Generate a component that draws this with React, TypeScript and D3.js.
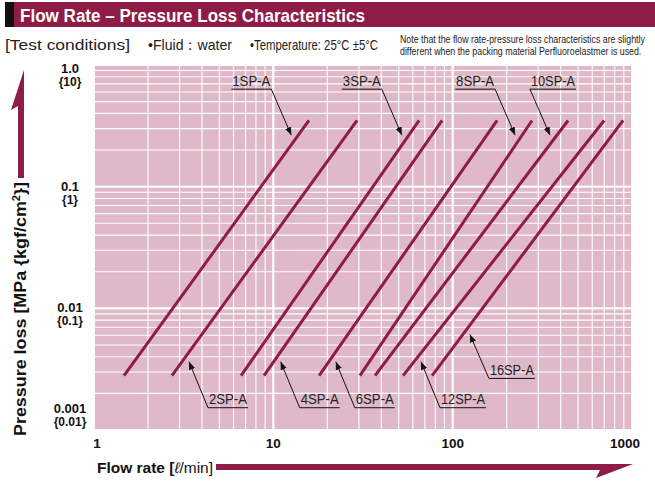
import React from "react";
import * as d3 from "d3";

// ---------- data ----------
const models = ["1SP-A", "2SP-A", "3SP-A", "4SP-A", "6SP-A", "8SP-A", "10SP-A", "12SP-A", "16SP-A"];
const flowAtMinPressure = [1.47, 2.72, 6.61, 8.87, 18.0, 30.4, 36.9, 52.9, 76.8];
const flowAtMaxPressure = [15.8, 29.3, 65.0, 87.3, 177, 277, 440, 699, 892];
const pressureRange = [0.0028, 0.35];

const xTicks = [1, 10, 100, 1000];
const xTickLabels = ["1", "10", "100", "1000"];
const yTicks = [1, 0.1, 0.01, 0.001];
const yTickLabelsMPa = ["1.0", "0.1", "0.01", "0.001"];
const yTickLabelsKgf = ["{10}", "{1}", "{0.1}", "{0.01}"];

// annotations: which model, pressure where arrow points, placement
const annoModel = ["1SP-A", "3SP-A", "8SP-A", "10SP-A", "2SP-A", "4SP-A", "6SP-A", "12SP-A", "16SP-A"];
const annoPressure = [0.265, 0.265, 0.265, 0.265, 0.00364, 0.00364, 0.00364, 0.00364, 0.0061];
const annoSide = ["topL", "topL", "topL", "topR", "bot", "bot", "bot", "bot", "bot"];

const CRIMSON = "#8F1B47";
const PINK = "#DFB9C7";
const FONT = "'Liberation Sans', Arial, sans-serif";

export default function App() {
  const W = 655, H = 487;
  const x = d3.scaleLog().domain([1, 1000]).range([94, 632]);
  const y = d3.scaleLog().domain([0.001, 1]).range([430, 65]);

  const xGrid: number[] = [];
  for (const dec of [1, 10, 100]) for (let k = 1; k <= 10; k++) xGrid.push(dec * k);
  const yGrid: number[] = [];
  for (const dec of [0.001, 0.01, 0.1]) for (let k = 1; k <= 10; k++) yGrid.push(+(dec * k).toPrecision(3));

  const line = d3
    .line<[number, number]>()
    .x((d) => x(d[0]))
    .y((d) => y(d[1]));

  const flowAt = (i: number, p: number) => {
    const t = (Math.log10(p) - Math.log10(pressureRange[0])) / (Math.log10(pressureRange[1]) - Math.log10(pressureRange[0]));
    const lf = Math.log10(flowAtMinPressure[i]) + t * (Math.log10(flowAtMaxPressure[i]) - Math.log10(flowAtMinPressure[i]));
    return Math.pow(10, lf);
  };

  const isDecade = (v: number) => Math.abs(Math.log10(v) - Math.round(Math.log10(v))) < 1e-6;

  return (
    <svg width={W} height={H} style={{ position: "absolute", left: 0, top: 0, background: "#fff" }} fontFamily={FONT}>
      <defs>
        <marker id="ah" viewBox="0 0 10 10" refX="10" refY="5" markerWidth="8" markerHeight="9" markerUnits="userSpaceOnUse" orient="auto">
          <path d="M0,1 L10,5 L0,9 Z" fill="#111" />
        </marker>
      </defs>

      {/* title bar */}
      <rect x={5} y={2} width={650} height={25} fill={CRIMSON} />
      <rect x={5} y={2} width={9} height={25} fill="#111" />
      <text x={20} y={22} fill="#fff" fontSize={19} fontWeight="bold" textLength={345} lengthAdjust="spacingAndGlyphs">
        Flow Rate – Pressure Loss Characteristics
      </text>

      {/* conditions */}
      <text x={5} y={50} fontSize={15} fill="#222" textLength={125} lengthAdjust="spacingAndGlyphs">[Test conditions]</text>
      <text x={148} y={50} fontSize={15} fill="#222" textLength={84} lengthAdjust="spacingAndGlyphs">•Fluid：water</text>
      <text x={250} y={50} fontSize={15} fill="#222" textLength={128} lengthAdjust="spacingAndGlyphs">•Temperature: 25°C ±5°C</text>
      <text transform="translate(400,43) scale(0.84,1)" x={0} y={0} fontSize={10.5} fill="#222">
        Note that the flow rate-pressure loss characteristics are slightly
      </text>
      <text transform="translate(400,55) scale(0.84,1)" x={0} y={0} fontSize={10.5} fill="#222">
        different when the packing material Perfluoroelastmer is used.
      </text>

      {/* plot background */}
      <rect x={x(1)} y={y(1)} width={x(1000) - x(1)} height={y(0.001) - y(1)} fill={PINK} />

      {/* grid */}
      {xGrid.map((v, i) => (
        <line key={"gx" + i} x1={x(v)} x2={x(v)} y1={y(1)} y2={y(0.001)} stroke="#fff" strokeWidth={isDecade(v) ? 1.8 : 1.1} />
      ))}
      {yGrid.map((v, i) => (
        <line key={"gy" + i} x1={x(1)} x2={x(1000)} y1={y(v)} y2={y(v)} stroke="#fff" strokeWidth={isDecade(v) ? 1.8 : 1.1} />
      ))}

      {/* model lines */}
      {models.map((m, i) => (
        <path
          key={m}
          d={line([
            [flowAtMinPressure[i], pressureRange[0]],
            [flowAtMaxPressure[i], pressureRange[1]],
          ]) as string}
          stroke={CRIMSON}
          strokeWidth={3}
          fill="none"
        />
      ))}

      {/* annotations */}
      {annoModel.map((m, k) => {
        const i = models.indexOf(m);
        const p = annoPressure[k];
        const side = annoSide[k];
        const top = side !== "bot";
        const tipX = x(flowAt(i, p)) + (top ? -7 : 7);
        const tipY = y(p);
        const ax = tipX + (top ? -20 : 19);
        const ay = tipY + (top ? -46 : m === "16SP-A" ? 44 : 46);
        const tw = m.length === 5 ? 38 : 44;
        const ulLen = tw + 2;
        const ulStart = side === "topL" ? ax - ulLen : ax;
        return (
          <g key={"a" + m}>
            <line x1={ax} y1={ay} x2={tipX} y2={tipY} stroke="#111" strokeWidth={1} markerEnd="url(#ah)" />
            <line x1={ulStart} x2={ulStart + ulLen} y1={ay} y2={ay} stroke="#111" strokeWidth={1} />
            <text x={ulStart + 1} y={ay - 3.5} fontSize={14} fill="#222" textLength={tw} lengthAdjust="spacingAndGlyphs">
              {m}
            </text>
          </g>
        );
      })}

      {/* x tick labels */}
      {xTicks.map((v, i) => {
        const off = i === 0 ? 3 : i === xTicks.length - 1 ? -7 : 0;
        const tw = xTickLabels[i].length * 7.5;
        return (
          <text key={"xt" + i} x={x(v) + off - tw / 2} y={448} fontSize={13} fontWeight="bold" fill="#111" textLength={tw} lengthAdjust="spacingAndGlyphs">
            {xTickLabels[i]}
          </text>
        );
      })}

      {/* y tick labels */}
      {yTicks.map((v, i) => {
        const yy = y(v);
        const b1 = i === 0 ? yy + 8 : i === yTicks.length - 1 ? yy - 17 : yy + 4;
        return (
          <g key={"yt" + i}>
            <text x={70} y={b1} fontSize={13} fontWeight="bold" fill="#111" textAnchor="middle">
              {yTickLabelsMPa[i]}
            </text>
            <text x={70} y={b1 + 13} fontSize={12} fontWeight="bold" fill="#111" textAnchor="middle">
              {yTickLabelsKgf[i]}
            </text>
          </g>
        );
      })}

      {/* y axis arrow + title */}
      <polygon points="24,70 24,178 18,178 18,106 11,110" fill={CRIMSON} />
      <text transform="translate(26,436) rotate(-90)" x={0} y={0} fontSize={16} fontWeight="bold" fill="#111" textLength={254} lengthAdjust="spacingAndGlyphs">
        Pressure loss [MPa {"{kgf/cm"}
        <tspan dy={-6} fontSize={10}>2</tspan>
        <tspan dy={6}>{"}]"}</tspan>
      </text>

      {/* x axis title + arrow */}
      <text x={97} y={473} fontSize={15} fill="#111" textLength={116} lengthAdjust="spacingAndGlyphs">
        <tspan fontWeight="bold">Flow rate [</tspan>
        <tspan fontStyle="italic">ℓ</tspan>
        <tspan>/min]</tspan>
      </text>
      <polygon points="216,464 633,464 596,478 600,470 216,470" fill={CRIMSON} />
    </svg>
  );
}
